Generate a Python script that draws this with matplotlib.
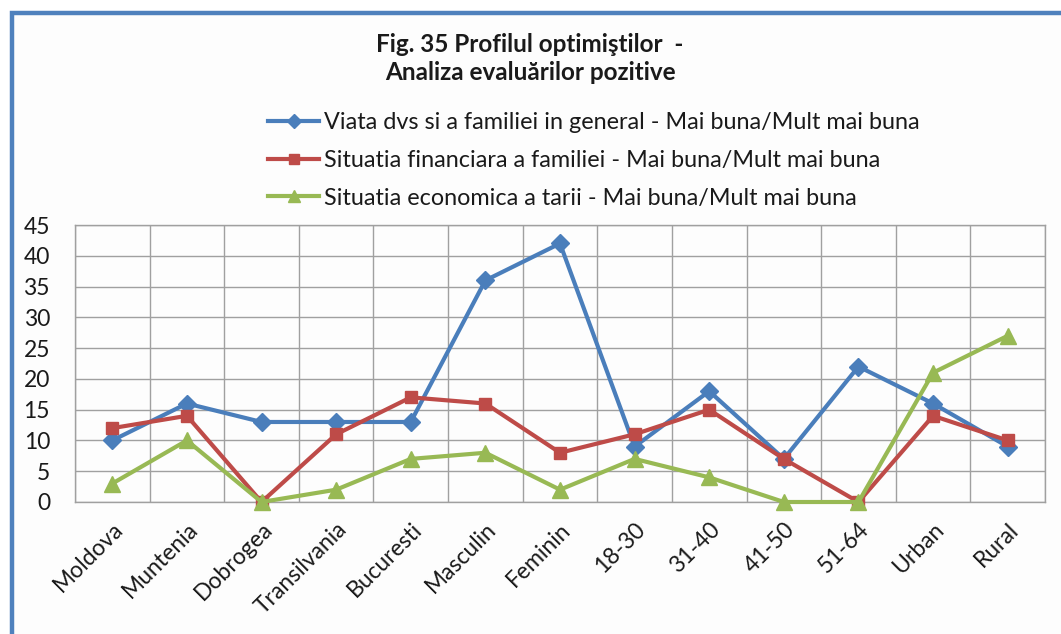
import matplotlib
matplotlib.use("Agg")
import matplotlib.pyplot as plt
from matplotlib.patches import Rectangle

categories = ["Moldova", "Muntenia", "Dobrogea", "Transilvania", "Bucuresti",
              "Masculin", "Feminin", "18-30", "31-40", "41-50", "51-64",
              "Urban", "Rural"]
viata = [10, 16, 13, 13, 13, 36, 42, 9, 18, 7, 22, 16, 9]
financiara = [12, 14, 0, 11, 17, 16, 8, 11, 15, 7, 0, 14, 10]
economica = [3, 10, 0, 2, 7, 8, 2, 7, 4, 0, 0, 21, 27]
series_labels = [
    "Viata dvs si a familiei in general - Mai buna/Mult mai buna",
    "Situatia financiara a familiei - Mai buna/Mult mai buna",
    "Situatia economica a tarii - Mai buna/Mult mai buna",
]

plt.rcParams["font.family"] = ["Lato", "DejaVu Sans"]

W, H = 1061, 634
fig = plt.figure(figsize=(W / 100, H / 100), dpi=100)
fig.patch.set_facecolor("white")

# blue frame (left and top edges visible, rest cropped)
fig.add_artist(Rectangle((11.5 / W, -0.05), 1.2, 1 - 12.5 / H + 0.05,
                         transform=fig.transFigure, facecolor="#fdfdfd",
                         edgecolor="#4f81bd", linewidth=3.2, zorder=0))

ax = fig.add_axes([75 / W, 1 - 502 / H, (1045 - 75) / W, (502 - 225) / H])
ax.set_facecolor("none")

x = list(range(len(categories)))
colors = ["#4a7ebb", "#be4b48", "#98b954"]
markers = ["D", "s", "^"]
msizes = [9, 9, 11]
for ys, c, m, ms, lab in zip([viata, financiara, economica], colors, markers, msizes, series_labels):
    ax.plot(x, ys, color=c, marker=m, markersize=ms, linewidth=3.0,
            label=lab, clip_on=False, zorder=3)

ax.set_xlim(-0.5, len(categories) - 0.5)
ax.set_ylim(0, 45)
ax.set_yticks(range(0, 46, 5))
ax.set_xticks(x)
ax.set_xticklabels(categories, rotation=45, ha="right", rotation_mode="anchor")
ax.set_xticks([i - 0.5 for i in range(len(categories) + 1)], minor=True)
ax.tick_params(axis="both", which="both", length=0, labelsize=16.5, colors="#1a1a1a")
ax.tick_params(axis="x", which="major", pad=12)
ax.tick_params(axis="y", pad=18)
ax.grid(True, axis="y", which="major", color="#a0a0a0", linewidth=1)
ax.grid(True, axis="x", which="minor", color="#a0a0a0", linewidth=1)
ax.set_axisbelow(True)
for s in ax.spines.values():
    s.set_color("#a0a0a0")
    s.set_linewidth(1)

fig.text(530 / W, 1 - 45 / H, "Fig. 35 Profilul optimiştilor  -", ha="center", va="center",
         fontsize=17.5, fontweight="bold", color="#1a1a1a")
fig.text(530 / W, 1 - 73 / H, "Analiza evaluărilor pozitive", ha="center", va="center",
         fontsize=17.5, fontweight="bold", color="#1a1a1a")

fig.legend(loc="upper left", bbox_to_anchor=(268 / W, 1 - 112 / H), frameon=False,
           fontsize=16.8, handlelength=2.2, handletextpad=0.2, labelspacing=0.72,
           markerscale=0.8, labelcolor="#1a1a1a", borderaxespad=0, borderpad=0)

fig.savefig("out.png", dpi=100)
